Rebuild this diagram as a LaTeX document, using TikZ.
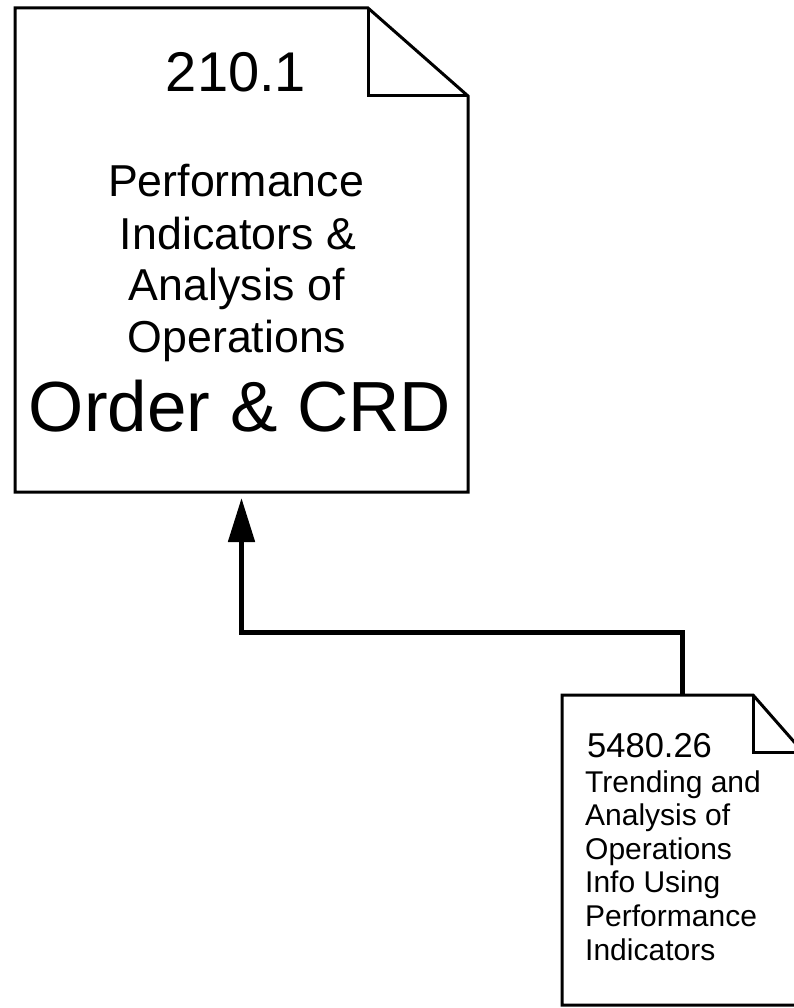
\documentclass[tikz,border=0pt]{standalone}
\usepackage{fontspec}
\setmainfont{Liberation Sans}
\usetikzlibrary{arrows.meta}
\begin{document}
\begin{tikzpicture}[x=1pt,y=-1pt,
  doc/.style={draw=none, inner sep=0pt, outer sep=0pt},
  outline/.style={line width=3pt, line join=miter},
  conn/.style={line width=5pt, -{Triangle[length=44pt,width=26pt]}},
  txt/.style={inner sep=0pt, anchor=base},
  ltxt/.style={inner sep=0pt, anchor=base west}]
\clip (0,0) rectangle (794,1008);
% large document
\node[doc, minimum width=453pt, minimum height=484pt] (big) at (241.5,250) {};
\draw[outline] (big.south west) -- (big.north west) -- ([xshift=-100pt]big.north east)
  -- ([yshift=-88pt]big.north east) -- (big.south east) -- cycle;
\draw[outline] ([xshift=-100pt]big.north east) -- ([xshift=-100pt,yshift=-88pt]big.north east)
  -- ([yshift=-88pt]big.north east);
% small document
\node[doc, minimum width=241pt, minimum height=310pt] (small) at (682.5,850) {};
\draw[outline] (small.south west) -- (small.north west) -- ([xshift=-50pt]small.north east)
  -- ([yshift=-57pt]small.north east) -- (small.south east) -- cycle;
\draw[outline] ([xshift=-50pt]small.north east) -- ([xshift=-50pt,yshift=-57pt]small.north east)
  -- ([yshift=-57pt]small.north east);
% texts of the large document
\node[txt, font=\fontsize{56}{60}\selectfont] (t1) at (236,92) {210.1};
\node[txt, font=\fontsize{44.7}{50}\selectfont] (t2) at (236,197) {Performance};
\node[txt, font=\fontsize{44.7}{50}\selectfont] (t3) at (238,249) {Indicators \&};
\node[txt, font=\fontsize{44.7}{50}\selectfont] (t4) at (237,300) {Analysis of};
\node[txt, font=\fontsize{44.7}{50}\selectfont] (t5) at (237,352) {Operations};
\node[txt, font=\fontsize{71}{75}\selectfont] (t6) at (240,431) {Order \& CRD};
% texts of the small document
\node[ltxt, font=\fontsize{34.5}{37}\selectfont] (s1) at (587,757) {5480.26};
\node[ltxt, font=\fontsize{30}{33}\selectfont] (s2) at (585,792) {Trending and};
\node[ltxt, font=\fontsize{30}{33}\selectfont] (s3) at (585,825.6) {Analysis of};
\node[ltxt, font=\fontsize{30}{33}\selectfont] (s4) at (585,859.2) {Operations};
\node[ltxt, font=\fontsize{30}{33}\selectfont] (s5) at (585,892.8) {Info Using};
\node[ltxt, font=\fontsize{30}{33}\selectfont] (s6) at (585,926.4) {Performance};
\node[ltxt, font=\fontsize{30}{33}\selectfont] (s7) at (585,960) {Indicators};
% connector
\coordinate (bend) at (0,632);
\draw[conn, shorten >=6pt] (small.north) -- (small.north |- bend) -| (big.south);
\end{tikzpicture}
\end{document}
